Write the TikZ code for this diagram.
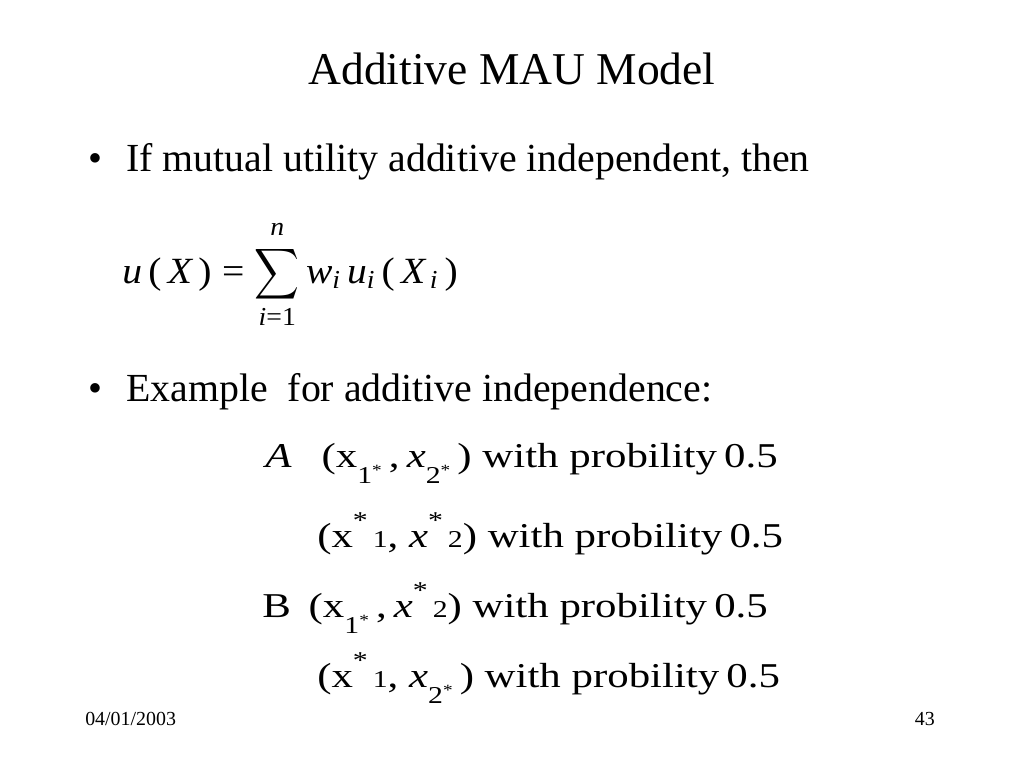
\documentclass[tikz,border=0pt]{standalone}
\usepackage{amsmath}
\usepackage{graphicx}
\usepackage{fontspec}
\setmainfont{Liberation Serif}
\newcommand{\mi}[1]{\text{\itshape #1}}
\newcommand{\mr}[1]{\text{\upshape #1}}
\newcommand{\narrowsum}{\mathop{\scalebox{0.82}[1]{$\displaystyle\sum$}}\limits}
\newcommand{\substar}[1]{\raisebox{-0.46em}{\fontsize{17}{17}\selectfont #1\raisebox{0.3em}{\fontsize{11}{11}\selectfont *}}}
\newcommand{\supstar}[1]{{\fontsize{17}{17}\selectfont\raisebox{0.78em}{*}\,#1}}
\newcommand{\wideq}[1]{\scalebox{1.23}[1]{#1}}
\newcommand{\wideeq}[1]{\scalebox{1.07}[1]{#1}}

\begin{document}
\begin{tikzpicture}[x=0.703125pt,y=-0.703125pt,
  every node/.style={inner sep=0pt,anchor=base west},
  title node/.style={anchor=base,font=\fontsize{32}{38}\selectfont},
  body node/.style={font=\fontsize{28}{34}\selectfont},
  eq node/.style={font=\fontsize{26}{31}\selectfont},
  prob node/.style={font=\fontsize{24.5}{29}\selectfont},
  foot node/.style={font=\fontsize{14}{17}\selectfont}]
  \useasboundingbox (0,0) rectangle (1024,768);

  \node[title node] (title) at (512,85) {Additive MAU Model};

  \node[body node] (dot1) at (88,172) {\textbullet};
  \node[body node] (item1) at (126,172) {If mutual utility additive independent, then};
  \node[eq node] (eq) at (122,283) {\wideeq{$\displaystyle \mi{u}\,\mr{(}\,\mi{X}\,\mr{)}\mathrel{\mr{=}}\narrowsum_{\mi{i}\mr{=1}}^{\raisebox{2pt}{$\scriptstyle\mi{n}$}}\mi{w}_{\mi{i}}\,\mi{u}_{\mi{i}}\,\mr{(}\,\mi{X}_{\,\mi{i}}\,\mr{)}$}};

  \node[body node] (dot2) at (88,401) {\textbullet};
  \node[body node] (item2) at (126,401) {Example\ \ for additive independence:};

  % lottery A
  \node[prob node] (a1) at (265,467) {\wideq{\textit{A}\hspace{0.7em}(x\substar{1}\,,\,\textit{x}\substar{2}\,) with probility\,0.5}};
  \node[prob node] (a2) at (317,547) {\wideq{(x\supstar{1}, \textit{x}\supstar{2}) with probility\,0.5}};
  % lottery B
  \node[prob node] (b1) at (262,617) {\wideq{B\ \,(x\substar{1}\,,\,\textit{x}\supstar{2}) with probility\,0.5}};
  \node[prob node] (b2) at (317,687) {\wideq{(x\supstar{1}, \textit{x}\substar{2}\,) with probility\,0.5}};

  \node[foot node] (date) at (85,725) {04/01/2003};
  \node[foot node,anchor=base east] (page) at (935,725) {43};
\end{tikzpicture}
\end{document}
